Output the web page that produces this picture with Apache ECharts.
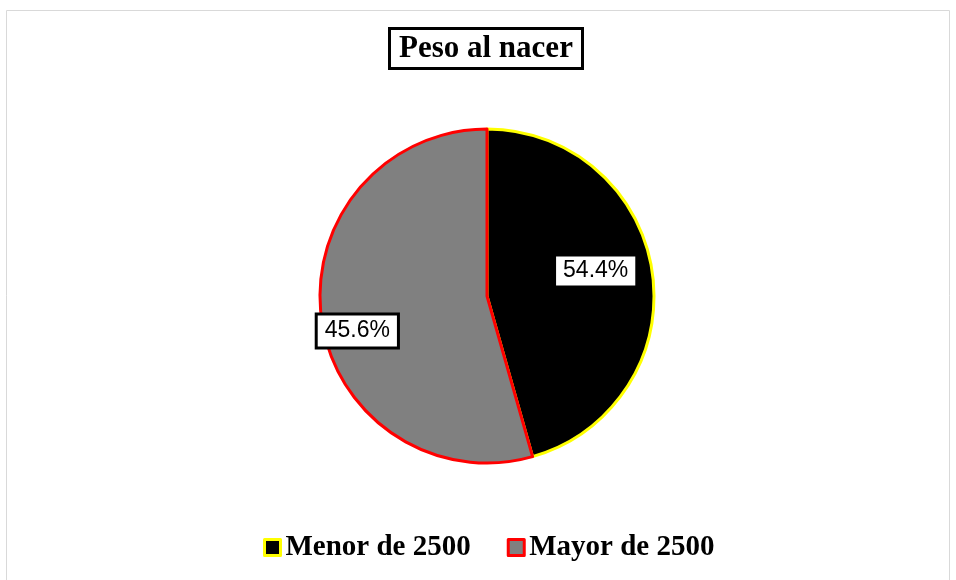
<!DOCTYPE html>
<html>
<head>
<meta charset="utf-8">
<script src="https://cdn.jsdelivr.net/npm/echarts@6/dist/echarts.min.js"></script>
<style>html,body{margin:0;padding:0;background:#fff}#c{width:956px;height:580px}</style>
</head>
<body>
<div id="c"></div>
<script>
const categories = ['Menor de 2500', 'Mayor de 2500'];
const sliceValues = [45.6, 54.4];
const labelTexts = ['54.4%', '45.6%'];
const fillColors = ['#000000', '#808080'];
const borderColors = ['#ffff00', '#ff0000'];

const chart = echarts.init(document.getElementById('c'), null, {renderer: 'canvas'});
const labelStyles = [
  {backgroundColor: '#fff', borderWidth: 0, padding: [3, 7, 3, 7], offset: [23, -13]},
  {backgroundColor: '#fff', borderColor: '#000', borderWidth: 3, padding: [4, 7, 4, 7], offset: [-44, 23]}
];
chart.setOption({
  animation: false,
  graphic: [{
    type: 'rect', shape: {x: 6.5, y: 10.5, width: 943, height: 600},
    style: {fill: 'none', stroke: '#d9d9d9', lineWidth: 1}, silent: true
  }],
  title: {
    text: 'Peso al nacer', left: 389, top: 28,
    padding: [5, 10, 5, 10], borderColor: '#000', borderWidth: 3, backgroundColor: '#fff',
    textStyle: {fontFamily: 'Liberation Serif', fontWeight: 'bold', fontSize: 31, color: '#000'}
  },
  legend: {
    bottom: 13, left: 258, itemWidth: 16, itemHeight: 16, itemGap: 36,
    icon: 'rect',
    textStyle: {fontFamily: 'Liberation Serif', fontWeight: 'bold', fontSize: 29, color: '#000'},
    data: categories.map((n, i) => ({name: n, itemStyle: {color: fillColors[i], borderColor: borderColors[i], borderWidth: 3}}))
  },
  series: [{
    type: 'pie', center: [487, 296], radius: 167, startAngle: 90, clockwise: true,
    silent: true,
    label: {show: true, position: 'inside', fontFamily: 'Liberation Sans', fontSize: 23, color: '#000'},
    labelLine: {show: false},
    data: categories.map((n, i) => ({
      name: n, value: sliceValues[i],
      itemStyle: {color: fillColors[i], borderColor: borderColors[i], borderWidth: 3},
      label: Object.assign({formatter: labelTexts[i]}, labelStyles[i])
    }))
  }]
});
</script>
</body>
</html>
